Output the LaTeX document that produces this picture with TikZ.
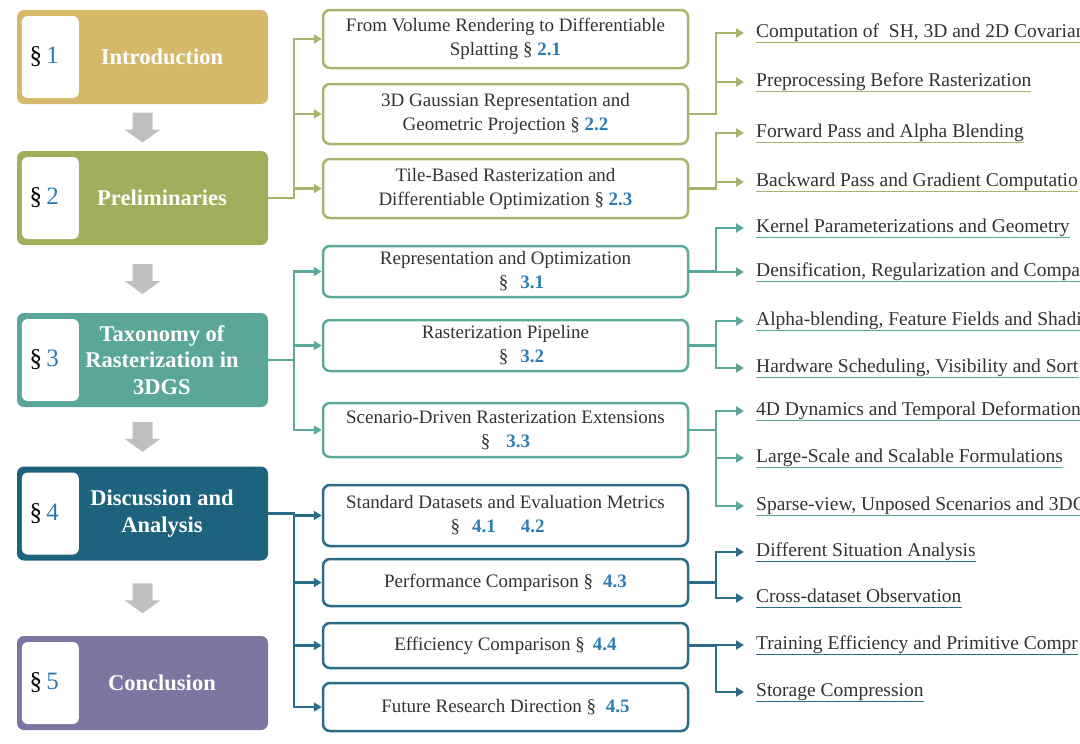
\documentclass[tikz,border=0pt]{standalone}
\usepackage{fontspec}
\setmainfont{Liberation Serif}
\usepackage{tikz}
\usetikzlibrary{positioning}
\usetikzlibrary{arrows.meta}
\usetikzlibrary{calc}

\definecolor{introcol}{HTML}{D4B96A}
\definecolor{prelcol}{HTML}{A2AE5C}
\definecolor{taxcol}{HTML}{5AA698}
\definecolor{disccol}{HTML}{1D637E}
\definecolor{conccol}{HTML}{7B76A0}
\definecolor{prelline}{HTML}{A8B36D}
\definecolor{taxline}{HTML}{5CA89B}
\definecolor{discline}{HTML}{2B6D88}
\definecolor{numblue}{HTML}{2D7DB3}
\definecolor{txtgray}{HTML}{333333}
\definecolor{arrowgray}{HTML}{BFBFBF}

\newcommand{\snum}[1]{\textcolor{numblue}{\textbf{#1}}}

\tikzset{
  secbox/.style={fill=#1, rounded corners=7pt, minimum width=251pt, minimum height=94pt, inner sep=0pt},
  numbox/.style={fill=white, rounded corners=6pt, minimum width=57pt, minimum height=82pt, inner sep=0pt},
  seclabel/.style={text=white, font=\fontsize{22.5}{26.5}\selectfont\bfseries, align=center},
  secnum/.style={font=\fontsize{25}{28}\selectfont},
  subbox/.style={draw=#1, line width=2.5pt, rounded corners=7pt, fill=white, minimum width=365pt, inner sep=0pt, align=center, text=txtgray, font=\fontsize{19}{24}\selectfont},
  leaf/.style={anchor=west, inner xsep=0pt, inner ysep=1pt, text height=13pt, text depth=4pt, text=txtgray, font=\fontsize{19.5}{24}\selectfont},
  link/.style={draw=#1, line width=2.3pt, -{Triangle[length=8pt,width=9pt]}}
}

\begin{document}
\begin{tikzpicture}[x=1pt, y=-1pt]
 \useasboundingbox (0,0) rectangle (1080,744);
 \fill[white] (0,0) rectangle (1080,744);
 \clip (0,0) rectangle (1080,744);

 %sections
 \foreach \name/\y/\col/\num/\txt in {s1/57/introcol/1/Introduction, s2/198/prelcol/2/Preliminaries, s3/360/taxcol/3/{Taxonomy of\\Rasterization in\\3DGS}, s4/513.5/disccol/4/{Discussion and\\Analysis}, s5/683/conccol/5/Conclusion} {
   \node[secbox=\col] (\name) at (142.5,\y) {};
   \node[numbox] (num\name) at ($(\name.west)+(33.5,0)$) {};
   \node[secnum] (lab\name) at ($(num\name)+(-6,0)$) {§\,\textcolor{numblue}{\num}};
   \node[seclabel] (txt\name) at (162,\y) {\txt};
 }

 %grey arrows between sections
 \foreach \a/\b in {s1/s2, s2/s3, s3/s4, s4/s5} {
   \coordinate (d\a) at ($(\a.south)!0.5!(\b.north)$);
   \fill[arrowgray] (d\a) ++(-10,-15) -- ++(20,0) -- ++(0,17) -- ++(8,0) -- ++(-18,13) -- ++(-18,-13) -- ++(8,0) -- cycle;
 }

 %sub sections
 \foreach \name/\y/\h/\col/\txt in {
   b21/39/58/prelline/{From Volume Rendering to Differentiable\\Splatting § \snum{2.1}},
   b22/114/60/prelline/{3D Gaussian Representation and\\Geometric Projection § \snum{2.2}},
   b23/188.5/59/prelline/{Tile-Based Rasterization and\\Differentiable Optimization § \snum{2.3}},
   b31/271.5/51/taxline/{Representation and Optimization\\\hspace*{32pt}§\hspace{12pt}\snum{3.1}},
   b32/345.5/51/taxline/{Rasterization Pipeline\\\hspace*{32pt}§\hspace{12pt}\snum{3.2}},
   b33/430/54/taxline/{Scenario-Driven Rasterization Extensions\\§\hspace{16pt}\snum{3.3}},
   b41/515.5/61/discline/{Standard Datasets and Evaluation Metrics\\§\hspace{12pt}\snum{4.1}\hspace{25pt}\snum{4.2}\hspace*{16pt}},
   b43/582.5/47/discline/{Performance Comparison §\hspace{10pt}\snum{4.3}},
   b44/645.5/45/discline/{Efficiency Comparison §\hspace{8pt}\snum{4.4}},
   b45/707/48/discline/{Future Research Direction §\hspace{10pt}\snum{4.5}}} {
   \node[subbox=\col, minimum height=\h pt] (\name) at (505.5,\y) {\txt};
 }

 \foreach \src/\dst/\col in {s2/b21/prelline, s2/b22/prelline, s2/b23/prelline, s3/b31/taxline, s3/b32/taxline, s3/b33/taxline, s4/b41/discline, s4/b43/discline, s4/b44/discline, s4/b45/discline}
   \draw[link=\col] (\src.east) -- ++(26,0) |- (\dst.west);

 %leaves
 \foreach \name/\y/\col/\txt in {
   l1/33/prelline/{Computation of \ SH, 3D and 2D Covarian},
   l2/82/prelline/{Preprocessing Before Rasterization},
   l3/133/prelline/{Forward Pass and Alpha Blending},
   l4/182/prelline/{Backward Pass and Gradient Computatio},
   l5/228/taxline/{Kernel Parameterizations and Geometry},
   l6/272/taxline/{Densification, Regularization and Compac},
   l7/321/taxline/{Alpha-blending, Feature Fields and Shadi},
   l8/368/taxline/{Hardware Scheduling, Visibility and Sort},
   l9/411/taxline/{4D Dynamics and Temporal Deformation},
   l10/458/taxline/{Large-Scale and Scalable Formulations},
   l11/506/taxline/{Sparse-view, Unposed Scenarios and 3DG},
   l12/552/discline/{Different Situation Analysis},
   l13/598/discline/{Cross-dataset Observation},
   l14/645/discline/{Training Efficiency and Primitive Compr},
   l15/692/discline/{Storage Compression}} {
   \node[leaf] (\name) at (756,\y) {\txt};
   \draw[\col, line width=1.2pt] (\name.south west) -- (\name.south east);
 }

 \foreach \src/\dst/\col in {b22/l1/prelline, b22/l2/prelline, b23/l3/prelline, b23/l4/prelline, b31/l5/taxline, b31/l6/taxline, b32/l7/taxline, b32/l8/taxline, b33/l9/taxline, b33/l10/taxline, b33/l11/taxline, b43/l12/discline, b43/l13/discline, b44/l14/discline, b44/l15/discline}
   \draw[link=\col, shorten >=12pt] (\src.east) -- ++(27,0) |- (\dst.west);

\end{tikzpicture}
\end{document}
